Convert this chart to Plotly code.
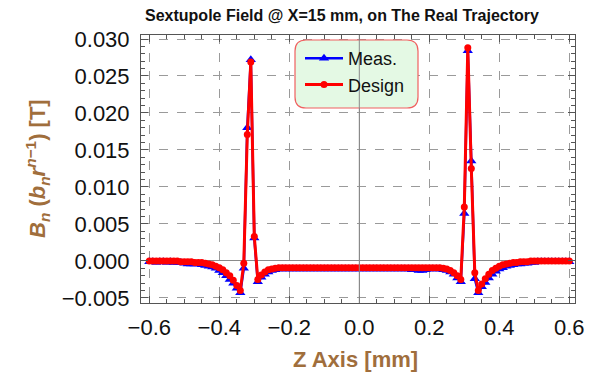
import plotly.graph_objects as go

# Longitudinal position along the trajectory
z = [
    -0.60, -0.59, -0.58, -0.57, -0.56, -0.55, -0.54, -0.53, -0.52, -0.51,
    -0.50, -0.49, -0.48, -0.47, -0.46, -0.45, -0.44, -0.43, -0.42, -0.41,
    -0.40, -0.39, -0.38, -0.37, -0.36, -0.35, -0.34, -0.33, -0.32, -0.31,
    -0.30, -0.29, -0.28, -0.27, -0.26, -0.25, -0.24, -0.23, -0.22, -0.21,
    -0.20, -0.19, -0.18, -0.17, -0.16, -0.15, -0.14, -0.13, -0.12, -0.11,
    -0.10, -0.09, -0.08, -0.07, -0.06, -0.05, -0.04, -0.03, -0.02, -0.01,
    0.00, 0.01, 0.02, 0.03, 0.04, 0.05, 0.06, 0.07, 0.08, 0.09,
    0.10, 0.11, 0.12, 0.13, 0.14, 0.15, 0.16, 0.17, 0.18, 0.19,
    0.20, 0.21, 0.22, 0.23, 0.24, 0.25, 0.26, 0.27, 0.28, 0.29,
    0.30, 0.31, 0.32, 0.33, 0.34, 0.35, 0.36, 0.37, 0.38, 0.39,
    0.40, 0.41, 0.42, 0.43, 0.44, 0.45, 0.46, 0.47, 0.48, 0.49,
    0.50, 0.51, 0.52, 0.53, 0.54, 0.55, 0.56, 0.57, 0.58, 0.59,
    0.60,
]

# Measured sextupole component [T]
meas = [
    -0.0001, -0.0001, -0.0002, -0.0001, -0.0001, -0.0002, -0.0001, -0.0002, -0.0002, -0.0002,
    -0.0003, -0.0004, -0.0004, -0.0004, -0.0004, -0.0005, -0.0006, -0.0007, -0.0008, -0.0010,
    -0.0013, -0.0016, -0.0020, -0.0025, -0.0030, -0.0037, -0.0043, -0.0010, 0.0180, 0.0272,
    0.0031, -0.0028, -0.0022, -0.0018, -0.0015, -0.0013, -0.0012, -0.0011, -0.0011, -0.0011,
    -0.0011, -0.0011, -0.0011, -0.0011, -0.0011, -0.0011, -0.0011, -0.0011, -0.0011, -0.0011,
    -0.0011, -0.0011, -0.0011, -0.0011, -0.0011, -0.0011, -0.0011, -0.0011, -0.0011, -0.0011,
    -0.0011, -0.0011, -0.0011, -0.0011, -0.0011, -0.0011, -0.0011, -0.0011, -0.0011, -0.0011,
    -0.0011, -0.0011, -0.0011, -0.0011, -0.0011, -0.0012, -0.0012, -0.0013, -0.0013, -0.0012,
    -0.0011, -0.0011, -0.0011, -0.0011, -0.0012, -0.0013, -0.0015, -0.0018, -0.0023, -0.0028,
    0.0064, 0.0284, 0.0135, -0.0024, -0.0043, -0.0035, -0.0029, -0.0023, -0.0018, -0.0014,
    -0.0011, -0.0009, -0.0007, -0.0006, -0.0005, -0.0004, -0.0004, -0.0003, -0.0003, -0.0002,
    -0.0002, -0.0001, -0.0001, -0.0001, -0.0001, -0.0001, -0.0001, -0.0001, -0.0001, -0.0001,
    -0.0001,
]

# Design sextupole component [T]
design = [
    0.0000, 0.0000, 0.0000, 0.0000, 0.0000, 0.0000, 0.0000, 0.0000, 0.0000, -0.0001,
    -0.0001, -0.0001, -0.0001, -0.0002, -0.0002, -0.0002, -0.0003, -0.0004, -0.0005, -0.0007,
    -0.0009, -0.0012, -0.0016, -0.0020, -0.0026, -0.0033, -0.0040, -0.0003, 0.0171, 0.0269,
    0.0033, -0.0025, -0.0019, -0.0015, -0.0012, -0.0011, -0.0010, -0.0009, -0.0009, -0.0009,
    -0.0009, -0.0009, -0.0009, -0.0009, -0.0009, -0.0009, -0.0009, -0.0009, -0.0009, -0.0009,
    -0.0009, -0.0009, -0.0009, -0.0009, -0.0009, -0.0009, -0.0009, -0.0009, -0.0009, -0.0009,
    -0.0009, -0.0009, -0.0009, -0.0009, -0.0009, -0.0009, -0.0009, -0.0009, -0.0009, -0.0009,
    -0.0009, -0.0009, -0.0009, -0.0009, -0.0009, -0.0009, -0.0009, -0.0009, -0.0009, -0.0009,
    -0.0009, -0.0009, -0.0009, -0.0009, -0.0010, -0.0011, -0.0013, -0.0016, -0.0020, -0.0025,
    0.0073, 0.0288, 0.0125, -0.0016, -0.0040, -0.0031, -0.0024, -0.0018, -0.0013, -0.0010,
    -0.0007, -0.0005, -0.0004, -0.0003, -0.0002, -0.0002, -0.0001, -0.0001, -0.0001, 0.0000,
    0.0000, 0.0000, 0.0000, 0.0000, 0.0000, 0.0000, 0.0000, 0.0000, 0.0000, 0.0000,
    0.0000,
]

x_ticks = [-0.6, -0.4, -0.2, 0.0, 0.2, 0.4, 0.6]
y_ticks = [-0.005, 0.000, 0.005, 0.010, 0.015, 0.020, 0.025, 0.030]

FONT = "Liberation Sans, Arial, sans-serif"
BROWN = "rgb(160,110,60)"
W, H = 598, 374
L, R, T, B = 141, 23, 35, 71
PW, PH = W - L - R, H - T - B


def px(xp):
    return (xp - L) / PW


def py(yp):
    return 1 - (yp - T) / PH


fig = go.Figure()
fig.add_trace(go.Scatter(
    x=z, y=meas, name="Meas.", mode="lines+markers", legendgroup="m",
    line=dict(color="#0000ff", width=2.5),
    marker=dict(symbol="triangle-up", size=9, color="#0000ff"),
))
fig.add_trace(go.Scatter(
    x=z, y=design, name="Design", mode="lines+markers", legendgroup="d",
    line=dict(color="#ff0000", width=3),
    marker=dict(symbol="circle", size=7, color="#ff0000"),
))

axis_common = dict(
    showline=True, linecolor="#555555", linewidth=1, mirror="ticks",
    ticks="inside", ticklen=7, tickcolor="#555555", tickwidth=1,
    showgrid=True, gridcolor="#9a9a9a", griddash="dash", gridwidth=1,
    zeroline=True, zerolinecolor="#8a8a8a", zerolinewidth=1,
    tickfont=dict(family=FONT, size=22, color="#111111"),
)

fig.update_xaxes(
    range=[-0.6237, 0.6163], tickvals=x_ticks, tickformat=".1f",
    minor=dict(dtick=0.05, tick0=0, ticks="inside", ticklen=4, tickcolor="#555555", showgrid=False),
    ticklabelstandoff=5, **axis_common,
)
fig.update_yaxes(
    range=[-0.00568, 0.03054], tickvals=y_ticks, tickformat=".3f",
    minor=dict(dtick=0.001, tick0=0, ticks="inside", ticklen=4, tickcolor="#555555", showgrid=False),
    ticklabelstandoff=6, **axis_common,
)

# Rounded legend panel
bx0, bx1, by0, by1, rr = 295, 418, 40, 108, 11
pts = [
    ("M", [(bx0 + rr, by0)]), ("L", [(bx1 - rr, by0)]), ("Q", [(bx1, by0), (bx1, by0 + rr)]),
    ("L", [(bx1, by1 - rr)]), ("Q", [(bx1, by1), (bx1 - rr, by1)]),
    ("L", [(bx0 + rr, by1)]), ("Q", [(bx0, by1), (bx0, by1 - rr)]),
    ("L", [(bx0, by0 + rr)]), ("Q", [(bx0, by0), (bx0 + rr, by0)]),
]
path = " ".join(
    cmd + " " + " ".join(f"{px(a):.5f},{py(b):.5f}" for a, b in seg) for cmd, seg in pts
) + " Z"

fig.add_shape(type="path", path=path, xref="paper", yref="paper",
              fillcolor="#e4f9e4", line=dict(color="#f06060", width=1.2), layer="above")
fig.add_shape(type="line", xref="x", yref="paper", x0=0, x1=0, y0=0, y1=1,
              line=dict(color="#8a8a8a", width=1), layer="above")

fig.add_annotation(text="<b>Z Axis [mm]</b>", xref="paper", yref="paper",
                   x=px(355), y=py(359), xanchor="center", yanchor="middle", showarrow=False,
                   font=dict(family=FONT, size=22, color=BROWN))
fig.add_annotation(
    text="<b><i>B</i><sub><i>n</i></sub> (<i>b</i><sub><i>n</i></sub><i>r</i><sup><i>n</i>\u22121</sup>) [T]</b>",
    xref="paper", yref="paper", x=px(37), y=py(169), xanchor="center", yanchor="middle",
    textangle=-90, showarrow=False, font=dict(family=FONT, size=22, color=BROWN))

fig.update_layout(
    width=W, height=H,
    margin=dict(l=L, r=R, t=T, b=B),
    paper_bgcolor="white", plot_bgcolor="white",
    title=dict(text="<b>Sextupole Field @ X=15 mm, on The Real Trajectory</b>",
               x=342 / W, y=1 - 15 / H, xanchor="center", yanchor="middle", xref="container",
               font=dict(family=FONT, size=16, color="#111111")),
    legend=dict(x=px(300), y=py(40), xanchor="left", yanchor="top",
                bgcolor="rgba(0,0,0,0)", borderwidth=0, itemwidth=38,
                tracegroupgap=9, traceorder="normal",
                font=dict(family=FONT, size=18, color="#111111")),
    showlegend=True,
)

fig.write_html("out.html")
